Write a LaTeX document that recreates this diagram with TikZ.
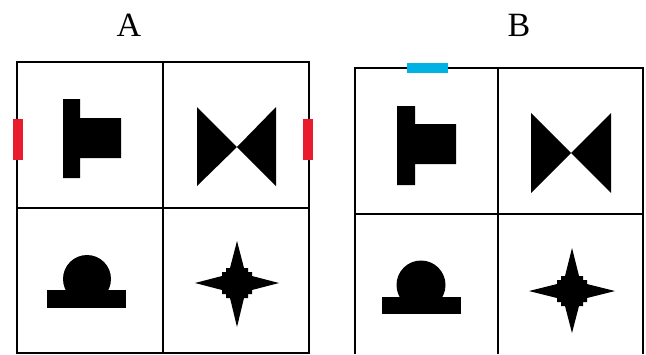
\documentclass[tikz,border=0pt]{standalone}
\usepackage{fontspec}
\setmainfont{Liberation Serif}
\usepackage{tikz}
\definecolor{markred}{RGB}{232,28,44}
\definecolor{markblue}{RGB}{0,178,228}

\begin{document}
\begin{tikzpicture}[x=1pt,y=-1pt,
  frame/.style={draw=black,line width=2pt},
  glyph/.style={fill=black},
  tag/.style={inner sep=0pt,font=\fontsize{34}{40}\selectfont}]
  \useasboundingbox (0,0) rectangle (646,354);
  % panel A
  \node[tag] (lblA) at (129,25) {A};
  \draw[frame] (17,62) rectangle (309,353);
  \draw[frame] (163,62) -- (163,353) (17,208) -- (309,208);
  \fill[markred] (13,119) rectangle (23,160);
  \fill[markred] (303,119) rectangle (313,160);
  \fill[glyph] (63,99) rectangle (80,178) (80,118) rectangle (121,158);
  \fill[glyph] (197,107) -- (237,147) -- (197,186) -- cycle;
  \fill[glyph] (276,107) -- (237,147) -- (276,186) -- cycle;
  \fill[glyph] (87,279) circle[radius=24];
  \fill[glyph] (47,290) rectangle (126,308);
  \begin{scope}[shift={(237,283)}]
    \fill[glyph] (0,-42) -- (7,-15) -- (11,-15) -- (11,-11) -- (15,-11) -- (15,-7)
      -- (42,0) -- (15,7) -- (15,11) -- (11,11) -- (11,15) -- (7,15)
      -- (0,44) -- (-7,15) -- (-11,15) -- (-11,11) -- (-15,11) -- (-15,7)
      -- (-42,0) -- (-15,-7) -- (-15,-11) -- (-11,-11) -- (-11,-15) -- (-7,-15) -- cycle;
  \end{scope}
  % panel B
  \node[tag] (lblB) at (519,25) {B};
  \draw[frame] (355,354) -- (355,68) -- (643,68) -- (643,354);
  \draw[frame] (498,68) -- (498,354) (355,214) -- (643,214);
  \fill[markblue] (407,63) rectangle (448,73);
  \fill[glyph] (397,106) rectangle (415,185) (415,124) rectangle (456,164);
  \fill[glyph] (531,113) -- (571,153) -- (531,193) -- cycle;
  \fill[glyph] (611,113) -- (571,153) -- (611,193) -- cycle;
  \fill[glyph] (421,285) circle[radius=24.5];
  \fill[glyph] (382,297) rectangle (461,314);
  \begin{scope}[shift={(572,291)}]
    \fill[glyph] (0,-43) -- (7,-15) -- (11,-15) -- (11,-11) -- (15,-11) -- (15,-7)
      -- (43,0) -- (15,7) -- (15,11) -- (11,11) -- (11,15) -- (7,15)
      -- (0,42) -- (-7,15) -- (-11,15) -- (-11,11) -- (-15,11) -- (-15,7)
      -- (-43,0) -- (-15,-7) -- (-15,-11) -- (-11,-11) -- (-11,-15) -- (-7,-15) -- cycle;
  \end{scope}
\end{tikzpicture}
\end{document}
